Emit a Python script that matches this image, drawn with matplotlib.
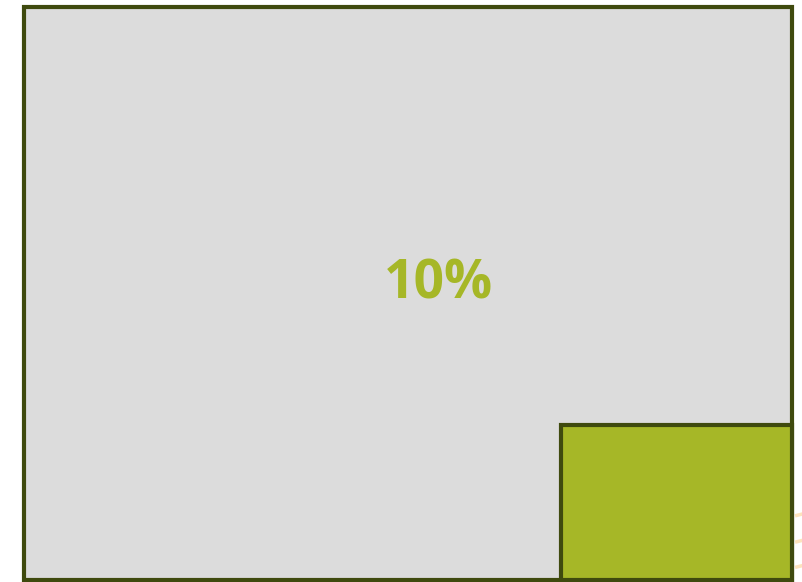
import matplotlib.pyplot as plt
from matplotlib.patches import Rectangle

# share of the whole, shown as the inner box
label = "10%"
inner_width = 0.301
inner_height = 0.27

# faint marks peeking in at the right edge (axes fraction y)
edge_marks_y = [0.112, 0.066, 0.022]

gray = "#DCDCDC"
green = "#A6B727"
edge = "#3F4A0E"


def main() -> None:
    fig = plt.figure(figsize=(8.03, 5.82), dpi=100)
    ax = fig.add_axes([24 / 803, 2 / 582, 768 / 803, 573 / 582])
    ax.set_xlim(0, 1)
    ax.set_ylim(0, 1)
    ax.axis("off")

    ax.add_patch(Rectangle((0, 0), 1, 1, facecolor=gray, edgecolor=edge,
                           linewidth=3, clip_on=False, zorder=1))
    ax.add_patch(Rectangle((1 - inner_width, 0), inner_width, inner_height,
                           facecolor=green, edgecolor=edge, linewidth=3,
                           clip_on=False, zorder=2))

    ax.text(0.540, 0.516, label, ha="center", va="center", color=green,
            fontsize=38.5, fontweight="bold", family="Open Sans", zorder=3)

    for y in edge_marks_y:
        ax.plot([1.004, 1.016], [y, y + 0.004], color="#FDE3BD",
                linewidth=2.5, solid_capstyle="butt", clip_on=False, zorder=0)

    fig.savefig("out.png", dpi=100)
    plt.close(fig)


if __name__ == "__main__":
    main()
